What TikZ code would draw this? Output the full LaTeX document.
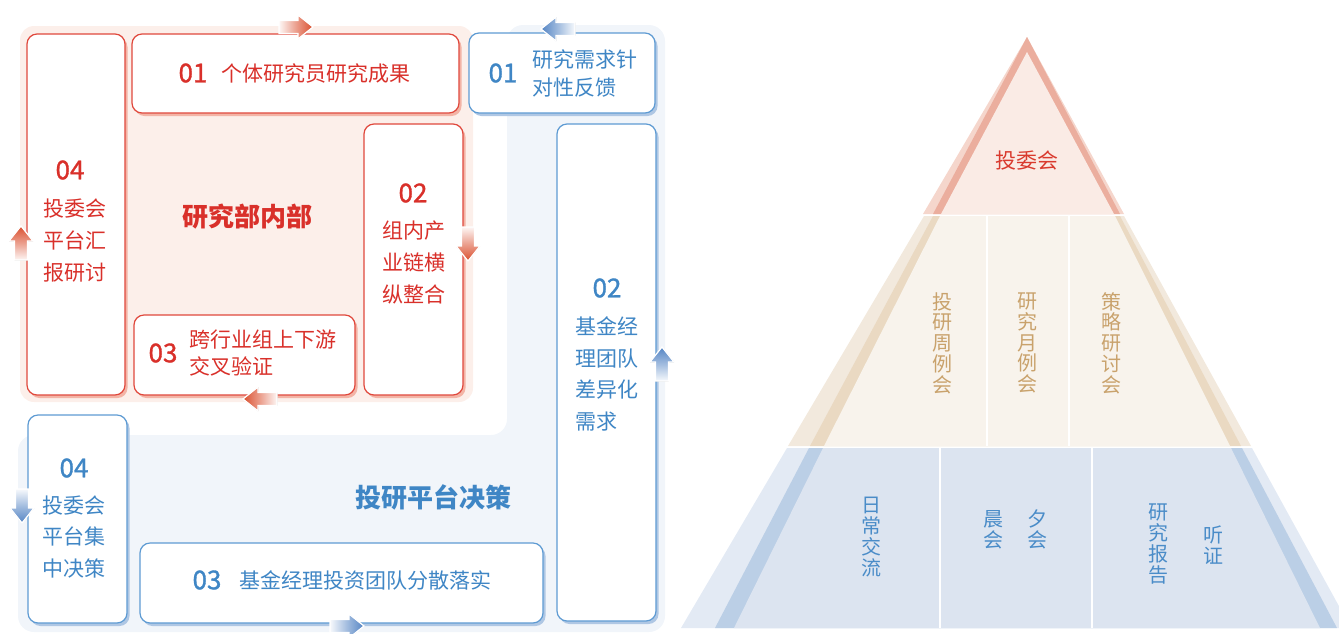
\documentclass[tikz,border=0pt]{standalone}
\usepackage{fontspec}
\setmainfont{Noto Sans CJK SC}
\newfontfamily\numfont[FakeBold=1.2]{Noto Sans CJK SC}
\usetikzlibrary{shadows}
\definecolor{rline}{HTML}{E0483C}
\definecolor{rshade}{HTML}{F3B4A6}
\definecolor{rtext}{HTML}{D9302A}
\definecolor{rpanel}{HTML}{FCEFEA}
\definecolor{rarrow}{HTML}{DA5030}
\definecolor{bline}{HTML}{5E9BD3}
\definecolor{bshade}{HTML}{AFC7E4}
\definecolor{btext}{HTML}{3F86C5}
\definecolor{bpanel}{HTML}{F1F5FA}
\definecolor{barrow}{HTML}{5585C4}
\definecolor{tlight}{HTML}{F5D6CC}
\definecolor{tdark}{HTML}{EBAE9E}
\definecolor{tfill}{HTML}{FAEBE5}
\definecolor{ttext}{HTML}{D93A2E}
\definecolor{mlight}{HTML}{F2E9DD}
\definecolor{mdark}{HTML}{EAD9C2}
\definecolor{mfill}{HTML}{F8F3EC}
\definecolor{mtext}{HTML}{C9A26C}
\definecolor{plight}{HTML}{E3EAF4}
\definecolor{pdark}{HTML}{BBCFE6}
\definecolor{pfill}{HTML}{DCE4F0}
\definecolor{ptext}{HTML}{4A8CC8}
\newcommand\arrR[3]{\fill[left color=#3!5,right color=#3,middle color=#3!55,draw=white,line width=1.2pt]
 (#1-17,#2-6.5) -- (#1+2,#2-6.5) -- (#1+2,#2-12) -- (#1+17,#2) -- (#1+2,#2+12) -- (#1+2,#2+6.5) -- (#1-17,#2+6.5) -- cycle;}
\newcommand\arrL[3]{\fill[right color=#3!5,left color=#3,middle color=#3!55,draw=white,line width=1.2pt]
 (#1+17,#2-6.5) -- (#1-2,#2-6.5) -- (#1-2,#2-12) -- (#1-17,#2) -- (#1-2,#2+12) -- (#1-2,#2+6.5) -- (#1+17,#2+6.5) -- cycle;}
\newcommand\arrD[3]{\fill[top color=#3!5,bottom color=#3,middle color=#3!55,draw=white,line width=1.2pt]
 (#1-6.5,#2-17) -- (#1-6.5,#2+2) -- (#1-12,#2+2) -- (#1,#2+17) -- (#1+12,#2+2) -- (#1+6.5,#2+2) -- (#1+6.5,#2-17) -- cycle;}
\newcommand\arrU[3]{\fill[bottom color=#3!5,top color=#3,middle color=#3!55,draw=white,line width=1.2pt]
 (#1-6.5,#2+17) -- (#1-6.5,#2-2) -- (#1-12,#2-2) -- (#1,#2-17) -- (#1+12,#2-2) -- (#1+6.5,#2-2) -- (#1+6.5,#2+17) -- cycle;}
\begin{document}
\begin{tikzpicture}[x=1pt,y=-1pt,
  rbox/.style={draw=rline, line width=1.2pt, fill=white, rounded corners=10pt, inner sep=0pt, outer sep=0pt,
    drop shadow={shadow xshift=2.5pt, shadow yshift=-3pt, fill=rshade, opacity=1}},
  bbox/.style={draw=bline, line width=1.2pt, fill=white, rounded corners=10pt, inner sep=0pt, outer sep=0pt,
    drop shadow={shadow xshift=2.5pt, shadow yshift=-3pt, fill=bshade, opacity=1}},
  rnum/.style={text=rtext, inner sep=0pt, font=\numfont\fontsize{26}{26}\selectfont},
  bnum/.style={text=btext, inner sep=0pt, font=\numfont\fontsize{26}{26}\selectfont},
  rtxt/.style={text=rtext, inner sep=0pt, align=center, font=\fontsize{21}{32}\selectfont},
  btxt/.style={text=btext, inner sep=0pt, align=center, font=\fontsize{21}{31.5}\selectfont},
  rtxtb/.style={text=rtext, inner sep=0pt, align=left, font=\fontsize{21}{27}\selectfont},
  btxtb/.style={text=btext, inner sep=0pt, align=left, font=\fontsize{21}{28}\selectfont},
  rtitle/.style={text=rtext, inner sep=0pt, font=\bfseries\fontsize{26}{26}\selectfont},
  btitle/.style={text=btext, inner sep=0pt, font=\bfseries\fontsize{26}{26}\selectfont},
  ptop/.style={text=ttext, inner sep=0pt, font=\fontsize{21}{21}\selectfont},
  pmid/.style={text=mtext, inner sep=0pt, align=center, font=\fontsize{20}{20.8}\selectfont},
  pbot/.style={text=ptext, inner sep=0pt, align=center, font=\fontsize{20}{21}\selectfont},
  divider/.style={white, line width=2.5pt}
]
\useasboundingbox (0,0) rectangle (1339,633);

% panels
\fill[bpanel, rounded corners=16pt] (18,435) -- (507,435) -- (507,25) -- (665,25) -- (665,632) -- (18,632) -- cycle;
\fill[rpanel, rounded corners=14pt] (20,26) rectangle (473,402);

% red boxes
\node[rbox, minimum width=98pt, minimum height=361pt] (r04) at (76,214.5) {};
\node[rbox, minimum width=327pt, minimum height=79pt] (r01) at (295.5,73.5) {};
\node[rbox, minimum width=99pt, minimum height=271pt] (r02) at (413.5,259.5) {};
\node[rbox, minimum width=221pt, minimum height=80pt] (r03) at (244.5,355) {};

% blue boxes
\node[bbox, minimum width=186pt, minimum height=80pt] (b01) at (562,73) {};
\node[bbox, minimum width=99pt, minimum height=497pt] (b02) at (606.5,372.5) {};
\node[bbox, minimum width=99pt, minimum height=208pt] (b04) at (77.5,519) {};
\node[bbox, minimum width=403pt, minimum height=80pt] (b03) at (341.5,583) {};

% red texts
\node[rnum] (r04n) at (70,170) {04};
\node[rtxt] (r04t) at (74.5,241) {投委会\\平台汇\\报研讨};
\node[rtitle] (rt) at (247,217) {研究部内部};
\node[rnum] (r01n) at (193,73) {01};
\node[rtxt, anchor=west] (r01t) at (221,74) {个体研究员研究成果};
\node[rnum] (r02n) at (413,193) {02};
\node[rtxt] (r02t) at (413.5,262) {组内产\\业链横\\纵整合};
\node[rnum] (r03n) at (163,353) {03};
\node[rtxtb, anchor=west] (r03t) at (189,353.5) {跨行业组上下游\\交叉验证};

% blue texts
\node[bnum] (b01n) at (503,73) {01};
\node[btxtb, anchor=west] (b01t) at (532,73) {研究需求针\\对性反馈};
\node[bnum] (b02n) at (607,288) {02};
\node[btxt, align=left, anchor=west] (b02t) at (575,374) {基金经\\理团队\\差异化\\需求};
\node[bnum] (b04n) at (74,468) {04};
\node[btxt] (b04t) at (74,537) {投委会\\平台集\\中决策};
\node[btitle] (bt) at (433,497) {投研平台决策};
\node[bnum] (b03n) at (207,580) {03};
\node[btxt, anchor=west] (b03t) at (239,580) {基金经理投资团队分散落实};

% arrows
\arrR{296}{27}{rarrow}
\arrD{468}{244}{rarrow}
\arrL{260}{399}{rarrow}
\arrU{21}{243}{rarrow}
\arrL{558}{29}{barrow}
\arrU{662}{364}{barrow}
\arrR{347}{626}{barrow}
\arrD{22}{506}{barrow}

% pyramid top
\fill[tlight] (1027,37) -- (923,214) -- (1124,214) -- cycle;
\fill[tdark] (1027,37) -- (933,214) -- (1120,214) -- cycle;
\fill[tfill] (1027,52) -- (941,214) -- (1114,214) -- cycle;
% pyramid middle
\fill[mlight] (924,216) -- (1124,216) -- (1251,446) -- (788,446) -- cycle;
\fill[mdark] (933,216) -- (1120,216) -- (1241,446) -- (810,446) -- cycle;
\fill[mfill] (940,216) -- (1115,216) -- (1230,446) -- (824,446) -- cycle;
\draw[divider] (987,216) -- (987,446);
\draw[divider] (1069,216) -- (1069,446);
% pyramid bottom
\fill[plight] (787,448) -- (1252,448) -- (1351,628) -- (681,628) -- cycle;
\fill[pdark] (809,448) -- (1242,448) -- (1337,628) -- (715,628) -- cycle;
\fill[pfill] (823,448) -- (1231,448) -- (1320,628) -- (734,628) -- cycle;
\draw[divider] (940,448) -- (940,628);
\draw[divider] (1092,448) -- (1092,628);

% pyramid texts
\node[ptop] (p1) at (1027,161) {投委会};
\node[pmid] (p21) at (942,343) {投\\研\\周\\例\\会};
\node[pmid] (p22) at (1027,343) {研\\究\\月\\例\\会};
\node[pmid] (p23) at (1111,343) {策\\略\\研\\讨\\会};
\node[pbot] (p31) at (871,537) {日\\常\\交\\流};
\node[pbot] (p32) at (993,530) {晨\\会};
\node[pbot] (p33) at (1037,529) {夕\\会};
\node[pbot] (p34) at (1158,544) {研\\究\\报\\告};
\node[pbot] (p35) at (1213,545) {听\\证};
\end{tikzpicture}
\end{document}
